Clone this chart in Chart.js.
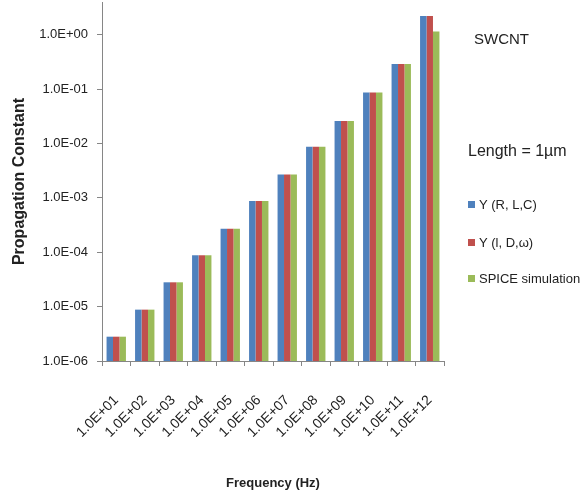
<!DOCTYPE html>
<html>
<head>
<meta charset="utf-8">
<script src="https://cdn.jsdelivr.net/npm/chart.js@4/dist/chart.umd.min.js"></script>
<style>
  html, body { margin: 0; padding: 0; background: #fff; }
  #wrap { width: 587px; height: 491px; position: relative; }
</style>
</head>
<body>
<div id="wrap"><canvas id="chart"></canvas></div>
<script>
// Datos
const categories = ["1.0E+01","1.0E+02","1.0E+03","1.0E+04","1.0E+05","1.0E+06",
                    "1.0E+07","1.0E+08","1.0E+09","1.0E+10","1.0E+11","1.0E+12"];
const gammaRLC = [2.8e-6, 8.8e-6, 2.8e-5, 8.8e-5, 2.7e-4, 8.8e-4, 2.7e-3, 8.7e-3, 2.6e-2, 8.7e-2, 0.29, 2.2];
const gammaLDw = [2.8e-6, 8.8e-6, 2.8e-5, 8.8e-5, 2.7e-4, 8.8e-4, 2.7e-3, 8.7e-3, 2.6e-2, 8.7e-2, 0.29, 2.2];
const spiceSim = [2.8e-6, 8.8e-6, 2.8e-5, 8.8e-5, 2.7e-4, 8.8e-4, 2.7e-3, 8.7e-3, 2.6e-2, 8.7e-2, 0.29, 1.15];
const yTickValues = [1e-6, 1e-5, 1e-4, 1e-3, 1e-2, 1e-1, 1];
const yTickLabels = ["1.0E-06","1.0E-05","1.0E-04","1.0E-03","1.0E-02","1.0E-01","1.0E+00"];

const FONT = '"Liberation Sans", Arial, sans-serif';
const BLUE = "#4F81BD", RED = "#C0504D", GREEN = "#9BBB59";

// Leyenda y anotaciones a la derecha (dibujadas a mano)
const sideLegend = {
  id: "sideLegend",
  afterDraw(chart) {
    const c = chart.ctx;
    c.save();
    c.fillStyle = "#222";
    c.textBaseline = "middle";
    c.textAlign = "left";
    c.font = "15px " + FONT;
    c.fillText("SWCNT", 474, 40);
    c.font = "16px " + FONT;
    c.fillText("Length = 1\u00b5m", 468, 152);
    const items = [
      [BLUE, "\u03a5 (R, L,C)", 205],
      [RED, "\u03a5 (l, D,\u03c9)", 243],
      [GREEN, "SPICE simulation", 279]
    ];
    c.font = "13px " + FONT;
    items.forEach(([col, txt, y]) => {
      c.fillStyle = col;
      c.fillRect(468, y - 4, 7, 7);
      c.fillStyle = "#222";
      c.fillText(txt, 479, y);
    });
    c.restore();
  }
};

new Chart(document.getElementById("chart"), {
  type: "bar",
  data: {
    labels: categories,
    datasets: [
      { label: "\u03a5 (R, L,C)", data: gammaRLC, backgroundColor: BLUE },
      { label: "\u03a5 (l, D,\u03c9)", data: gammaLDw, backgroundColor: RED },
      { label: "SPICE simulation", data: spiceSim, backgroundColor: GREEN }
    ]
  },
  options: {
    responsive: true,
    maintainAspectRatio: false,
    animation: false,
    layout: { padding: { left: 0, right: 143, top: 2, bottom: 0 } },
    datasets: { bar: { categoryPercentage: 0.68, barPercentage: 1.0 } },
    plugins: { legend: { display: false }, tooltip: { enabled: false } },
    scales: {
      x: {
        grid: { drawOnChartArea: false, drawTicks: true, tickLength: 5, color: "#868686", offset: true },
        border: { color: "#868686" },
        ticks: {
          color: "#222",
          font: { family: FONT, size: 14 },
          minRotation: 45, maxRotation: 45,
          autoSkip: false,
          padding: 26
        },
        title: {
          display: true, text: "Frequency (Hz)", color: "#222",
          font: { family: FONT, size: 13, weight: "bold" },
          padding: { top: 0, bottom: 0 }
        },
        afterFit(scale) { scale.height = 130; scale.paddingLeft = 0; scale.paddingRight = 0; }
      },
      y: {
        type: "logarithmic",
        min: 1e-6,
        max: 4,
        grid: { drawOnChartArea: false, drawTicks: true, tickLength: 5, color: "#868686" },
        border: { color: "#868686" },
        afterBuildTicks(scale) { scale.ticks = yTickValues.map(v => ({ value: v })); },
        ticks: {
          color: "#222",
          font: { family: FONT, size: 13 },
          padding: 9,
          callback: (v) => yTickLabels[yTickValues.findIndex(t => Math.abs(Math.log10(t) - Math.log10(v)) < 1e-6)] ?? ""
        },
        title: {
          display: true, text: "Propagation Constant", color: "#222",
          font: { family: FONT, size: 16, weight: "bold" },
          padding: { top: 10, bottom: 0 }
        },
        afterFit(scale) { scale.width = 102; scale.paddingTop = 0; scale.paddingBottom = 0; }
      }
    }
  },
  plugins: [sideLegend]
});
</script>
</body>
</html>
